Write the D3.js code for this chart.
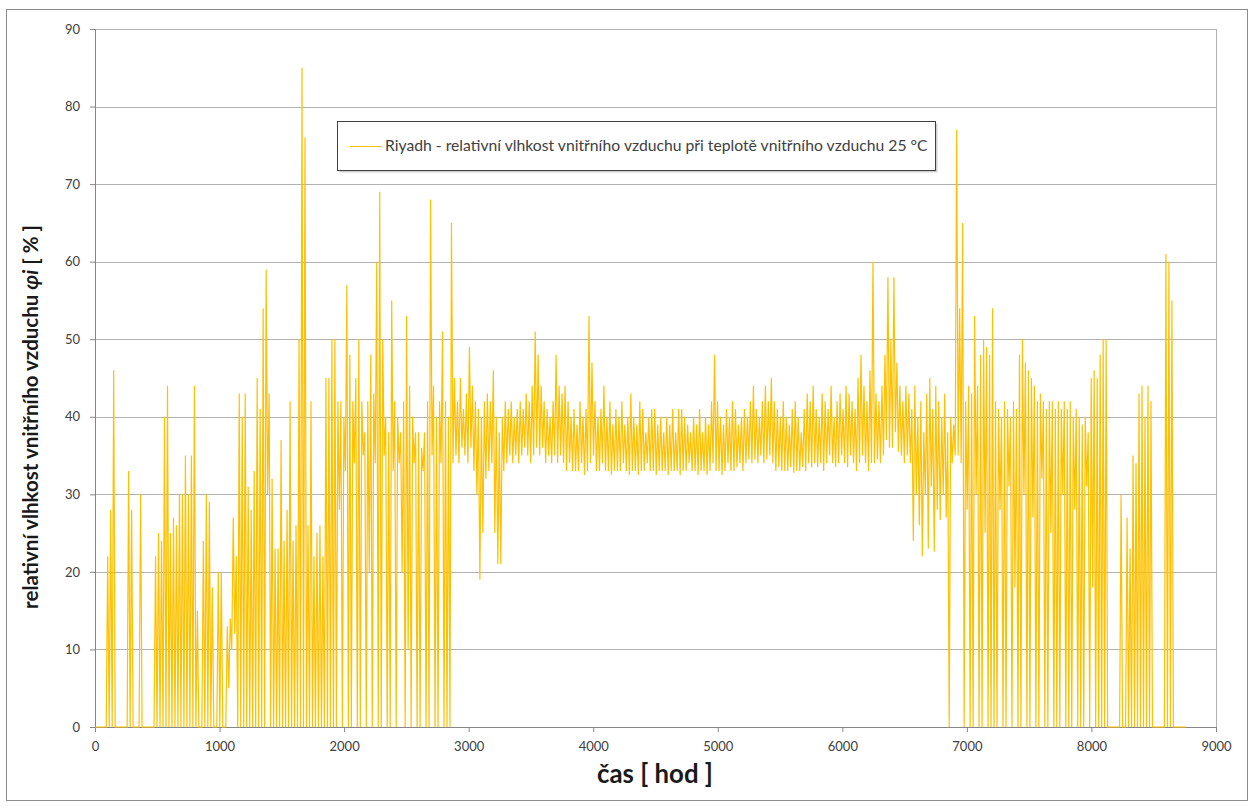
<!DOCTYPE html>
<html><head><meta charset="utf-8">
<script src="https://cdn.jsdelivr.net/npm/d3@7"></script>
<style>
body{margin:0;background:#fff;}
text{font-family:Lato,"Open Sans","Liberation Sans",sans-serif;}
</style></head><body>
<svg id="c" width="1254" height="808"></svg>
<script>
const xTicks=[0,1000,2000,3000,4000,5000,6000,7000,8000,9000];
const yTicks=[0,10,20,30,40,50,60,70,80,90];
const xTitle="čas [ hod ]";
const yTitleParts=["relativní vlhkost vnitřního vzduchu ","φi"," [ % ]"];
const legendLabel="Riyadh - relativní vlhkost vnitřního vzduchu při teplotě vnitřního vzduchu 25 °C";
const hoursPerDay=24, lastHour=8760;
// daily maximum of relative humidity [%] (day 0..364)
const dayMax=[
0,0,0,0,22,28,46,0,0,0,
0,33,28,0,0,30,0,0,0,0,
22,25,24,40,44,25,27,26,30,30,
35,30,35,44,15,0,24,30,29,18,
0,20,20,0,13,14,27,22,43,40,
43,31,28,33,45,41,54,59,43,32,
23,23,37,24,28,42,24,26,50,85,
76,26,42,22,25,26,22,45,45,50,
50,42,42,40,57,48,42,45,50,42,
38,42,48,43,60,69,50,40,38,55,
42,40,38,42,53,44,40,38,38,36,
38,42,68,44,40,42,51,42,40,65,
45,42,45,41,43,49,44,42,41,40,
42,43,42,46,40,38,40,42,41,42,
40,41,42,41,43,42,44,51,48,44,
42,41,40,42,48,44,43,44,42,40,
41,39,42,40,41,53,47,42,40,41,
44,40,42,39,41,40,42,39,40,43,
40,39,42,41,38,40,41,41,39,40,
38,40,39,41,38,41,41,40,39,38,
40,39,41,38,40,39,42,48,42,40,
39,41,40,42,41,39,40,41,40,42,
44,41,40,42,44,42,45,42,41,40,
42,40,39,41,42,40,38,41,43,42,
44,41,40,43,42,41,44,40,42,43,
41,44,43,42,41,45,48,44,42,46,
60,43,42,44,48,58,50,58,47,44,
42,44,43,41,44,40,42,38,43,45,
41,44,42,40,43,38,40,39,77,54,
65,42,44,43,53,44,48,50,49,48,
54,42,41,40,42,41,40,42,41,48,
50,47,46,45,44,42,43,42,41,42,
42,41,42,41,42,41,42,40,41,40,
39,40,38,45,46,45,48,50,50,0,
0,0,0,30,0,27,23,35,34,43,
44,40,44,42,0,0,0,0,61,60,
55,0,0,0,0];
// daily minimum of relative humidity [%] (day 0..364)
const dayMin=[
0,0,0,0,0,0,0,0,0,0,
0,0,0,0,0,0,0,0,0,0,
0,0,0,0,0,0,0,0,0,0,
0,0,0,0,0,0,0,0,0,0,
0,0,0,0,5,10,12,0,0,0,
0,0,0,0,0,0,0,30,0,0,
0,0,0,0,0,0,0,0,0,0,
0,0,0,0,0,0,0,0,0,0,
0,28,0,33,0,0,34,0,0,35,
0,20,0,34,0,0,35,0,0,33,
0,34,20,0,10,0,34,0,0,33,
0,0,35,0,0,34,0,0,0,34,
35,34,36,35,34,36,33,30,19,25,
32,33,34,25,21,21,33,34,35,34,
35,34,35,36,35,34,35,36,35,36,
34,35,34,35,34,35,34,33,34,33,
33,33,34,32.5,33,34,35,33,33,34,
33,33,32.5,33,33,33,34,33,32.5,33,
33,32.5,33,33,34,33,33,32.5,33,33,
33,32.5,33,33,33,32.5,33,33,34,33,
33,32.5,33,33,32.5,33,34,33,33,32.5,
33,34,33,33,33.5,34,33,34,34.5,34,
34.5,34,35,34,34.5,35,34,33,33.5,33,
33,33,33.5,32.8,33,33,33.5,33,34,33.5,
34,33.5,34,33,34,35,34,33.5,34,35,
34,33.5,35,34,33,34,35,34,33,34,
34,34.5,34,35,37,36,36,38,35.5,35,
34,35,34,24,30,26,22,30,23,31,
22.6,28,26.7,30,27,0,34,35,35,34,
0,28,0,0,30,0,0,25,0,0,
0,0,28,0,0,31,0,18,0,0,
30,0,0,27,0,0,32,0,0,25,
0,0,0,30,0,0,0,28,0,0,
0,31,0,18,0,0,0,0,0,0,
0,0,0,0,0,0,0,0,0,0,
0,0,0,0,0,0,0,0,0,0,
0,0,0,0,0];

const M={left:95,right:1216,top:29,bottom:727};
const x=d3.scaleLinear().domain([0,9000]).range([M.left,M.right]);
const y=d3.scaleLinear().domain([0,90]).range([M.bottom,M.top]);
const svg=d3.select('#c');
const axisGray='#868686', gridGray='#b2b2b2', lineColor='#FFC000', textCol='#404040';

svg.append('rect').attr('x',6.5).attr('y',9.5).attr('width',1241).attr('height',791)
  .attr('fill','#fff').attr('stroke','#8c8c8c');

// gridlines
svg.append('g').selectAll('line').data(yTicks.filter(v=>v>0)).join('line')
  .attr('x1',M.left).attr('x2',M.right+0.5)
  .attr('y1',d=>Math.round(y(d))+0.5).attr('y2',d=>Math.round(y(d))+0.5)
  .attr('stroke',gridGray);
svg.append('line').attr('x1',M.right+0.5).attr('x2',M.right+0.5)
  .attr('y1',M.top).attr('y2',M.bottom).attr('stroke',gridGray);

// axes
const gx=svg.append('g').attr('transform',`translate(0,${M.bottom})`)
  .call(d3.axisBottom(x).tickValues(xTicks).tickSize(5).tickSizeOuter(0).tickPadding(10).tickFormat(d3.format('d')));
const gy=svg.append('g').attr('transform',`translate(${M.left},0)`)
  .call(d3.axisLeft(y).tickValues(yTicks).tickSize(5).tickSizeOuter(0).tickPadding(10).tickFormat(d3.format('d')));
[gx,gy].forEach(g=>{
  g.select('.domain').attr('stroke',axisGray);
  g.selectAll('.tick line').attr('stroke',axisGray);
  g.selectAll('.tick text').attr('fill',textCol).style('font-size','13px').style('font-family','Lato, "Open Sans", sans-serif');
});

// data line
const pts=[{h:0,v:0}];
dayMax.forEach((m,d)=>{pts.push({h:hoursPerDay*d+6,v:m});pts.push({h:hoursPerDay*d+18,v:dayMin[d]});});
pts.push({h:lastHour,v:0});
svg.append('path').datum(pts)
  .attr('d',d3.line().x(p=>x(p.h)).y(p=>y(p.v)))
  .attr('fill','none').attr('stroke',lineColor).attr('stroke-width',1.2).attr('stroke-linejoin','miter');

function fit(sel,target){
  const n=sel.node(); const fs=parseFloat(sel.style('font-size'));
  const w=n.getComputedTextLength(); sel.style('font-size',(fs*target/w)+'px');
}

// legend
svg.append('rect').attr('x',339.5).attr('y',123.5).attr('width',598).attr('height',49).attr('fill','#d0d0d0');
svg.append('rect').attr('x',337.5).attr('y',121.5).attr('width',598).attr('height',49)
  .attr('fill','#fff').attr('stroke','#404040');
svg.append('line').attr('x1',350).attr('x2',382).attr('y1',146.5).attr('y2',146.5).attr('stroke',lineColor).attr('stroke-width',1);
const lt=svg.append('text').attr('x',385).attr('y',151).attr('fill',textCol).style('font-size','13px').text(legendLabel);
fit(lt,543);

// axis titles
const xt=svg.append('text').attr('x',655).attr('y',783).attr('text-anchor','middle')
  .attr('fill','#1a1a1a').style('font-weight','bold').style('font-size','18px').text(xTitle);
fit(xt,116);
const yt=svg.append('text').attr('transform','translate(38,417) rotate(-90)').attr('text-anchor','middle')
  .attr('fill','#1a1a1a').style('font-weight','bold').style('font-size','18px');
yt.append('tspan').text(yTitleParts[0]);
yt.append('tspan').style('font-style','italic').text(yTitleParts[1]);
yt.append('tspan').text(yTitleParts[2]);
fit(yt,384);
</script>
</body></html>
